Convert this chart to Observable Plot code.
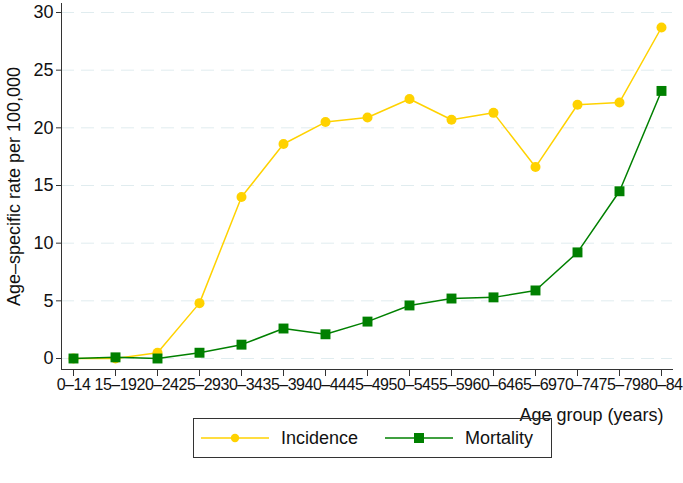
<!DOCTYPE html>
<html><head><meta charset="utf-8">
<script src="https://cdn.jsdelivr.net/npm/d3@7"></script>
<script src="https://cdn.jsdelivr.net/npm/@observablehq/plot@0.6"></script>
<style>
body{margin:0;background:#fff;font-family:"Liberation Sans",Arial,Helvetica,sans-serif;}
#chart{position:relative;width:683px;height:483px;overflow:hidden;}
#chart g[aria-label="x-axis tick label"] text{letter-spacing:-0.5px;}
#legend{position:absolute;left:193px;top:418px;width:359px;height:40px;border:1px solid #333;box-sizing:border-box;display:flex;align-items:center;font-size:18px;color:#111;}
#legend .item{display:flex;align-items:center;}
#legend svg{display:block;}
</style></head><body>
<div id="chart"></div>
<script>
const ageGroups = ["0–14","15–19","20–24","25–29","30–34","35–39","40–44","45–49","50–54","55–59","60–64","65–69","70–74","75–79","80–84"];
const incidence = [0, 0.0, 0.5, 4.8, 14.0, 18.6, 20.5, 20.9, 22.5, 20.7, 21.3, 16.6, 22.0, 22.2, 28.7];
const mortality = [0, 0.1, 0.0, 0.5, 1.2, 2.6, 2.1, 3.2, 4.6, 5.2, 5.3, 5.9, 9.2, 14.5, 23.2];
const yTicks = [0, 5, 10, 15, 20, 25, 30];
const seriesNames = ["Incidence", "Mortality"];
const seriesColors = ["#ffd200", "#008000"];
const yTitle = "Age–specific rate per 100,000";
const xTitle = "Age group (years)";

const incData = ageGroups.map((g, i) => ({group: g, value: incidence[i]}));
const morData = ageGroups.map((g, i) => ({group: g, value: mortality[i]}));

const plot = Plot.plot({
  width: 683,
  height: 430,
  marginLeft: 61,
  marginRight: 11,
  marginTop: 3,
  marginBottom: 61,
  style: {fontFamily: '"Liberation Sans", Arial, sans-serif', fontSize: "18px", color: "#111", background: "#fff"},
  x: {type: "point", domain: ageGroups, padding: 0, insetLeft: 11, insetRight: 11},
  y: {domain: [0, 30], insetTop: 9, insetBottom: 11},
  marks: [
    Plot.gridY(yTicks, {stroke: "#e0ecef", strokeOpacity: 1, strokeWidth: 1, strokeDasharray: "13,7"}),
    Plot.frame({anchor: "left", stroke: "#333"}),
    Plot.frame({anchor: "bottom", stroke: "#333"}),
    Plot.axisY(yTicks, {tickSize: 5, tickPadding: 3, fontSize: 18, label: null, stroke: "#333"}),
    Plot.axisX({tickSize: 7, tickPadding: 2, fontSize: 16, label: null, stroke: "#333"}),
    Plot.text([yTitle], {frameAnchor: "left", dx: -47, rotate: -90, textAnchor: "middle", fontSize: 18, fill: "#111"}),
    Plot.text([xTitle], {frameAnchor: "bottom-right", dx: -9, dy: 51, textAnchor: "end", fontSize: 18, fill: "#111"}),
    Plot.line(incData, {x: "group", y: "value", stroke: seriesColors[0], strokeWidth: 1.5}),
    Plot.dot(incData, {x: "group", y: "value", r: 5, fill: seriesColors[0], stroke: null}),
    Plot.line(morData, {x: "group", y: "value", stroke: seriesColors[1], strokeWidth: 1.5}),
    Plot.dot(morData, {x: "group", y: "value", r: 5.6, symbol: "square", fill: seriesColors[1], stroke: null})
  ]
});
const chart = document.getElementById("chart");
chart.appendChild(plot);

// legend
const legend = document.createElement("div");
legend.id = "legend";
seriesNames.forEach((name, i) => {
  const item = document.createElement("div");
  item.className = "item";
  item.style.marginLeft = i === 0 ? "7px" : "27px";
  const marker = i === 0
    ? `<circle cx="34" cy="6" r="4.2" fill="${seriesColors[i]}"/>`
    : `<rect x="29" y="1" width="10" height="10" fill="${seriesColors[i]}"/>`;
  item.innerHTML = `<svg width="68" height="12"><line x1="0" x2="68" y1="6" y2="6" stroke="${seriesColors[i]}" stroke-width="1.5"/>${marker}</svg><span style="margin-left:12px">${name}</span>`;
  legend.appendChild(item);
});
chart.appendChild(legend);
</script>
</body></html>
